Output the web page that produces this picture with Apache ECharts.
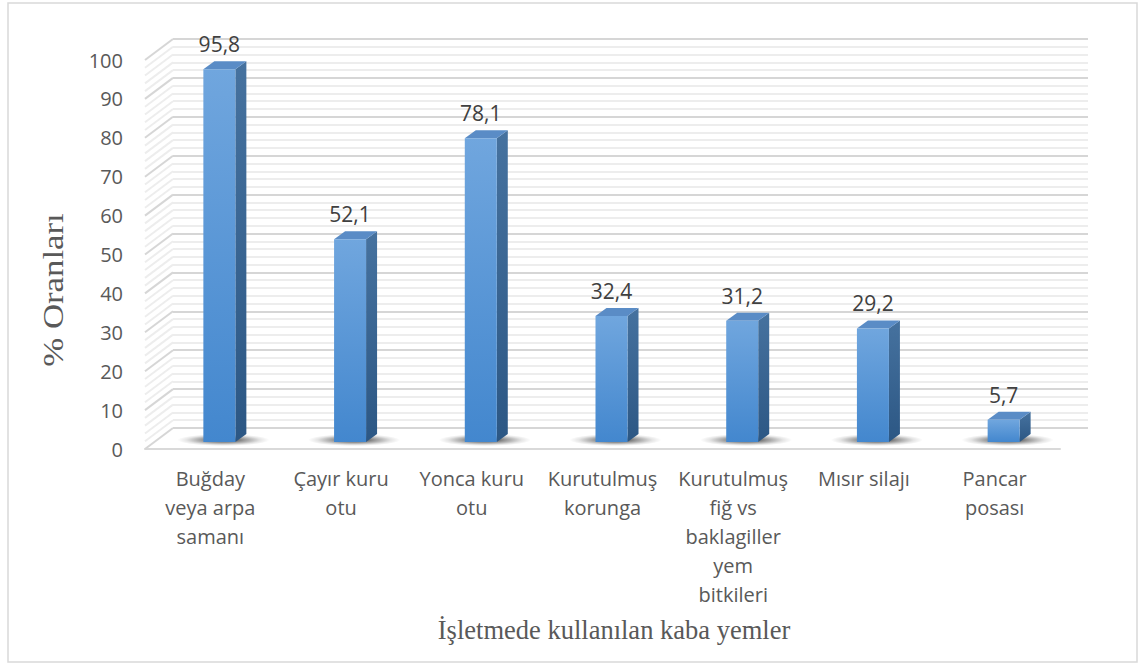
<!DOCTYPE html>
<html>
<head>
<meta charset="utf-8">
<title>Kaba yemler</title>
<script src="https://cdn.jsdelivr.net/npm/echarts@6/dist/echarts.min.js"></script>
<style>
html, body { margin: 0; padding: 0; background: #ffffff; }
#chart { width: 1141px; height: 664px; }
</style>
</head>
<body>
<div id="chart"></div>
<script>
// veriler
var categories = [
    'Buğday\nveya arpa\nsamanı',
    'Çayır kuru\notu',
    'Yonca kuru\notu',
    'Kurutulmuş\nkorunga',
    'Kurutulmuş\nfiğ vs\nbaklagiller\nyem\nbitkileri',
    'Mısır silajı',
    'Pancar\nposası'
];
var values = [95.8, 52.1, 78.1, 32.4, 31.2, 29.2, 5.7];
var yMin = 0, yMax = 100, yStep = 10;
var xTitle = 'İşletmede kullanılan kaba yemler';
var yTitle = '% Oranları';

// 3D görünüm için kaydırmalar
var wallDx = 28, wallDy = -21;
var barDx = 9, barDy = -7;
var barW = 32, barDepthX = 11, barDepthY = -8;

var chart = echarts.init(document.getElementById('chart'), null, { renderer: 'svg' });

function fmt(v) {
    return String(v).replace('.', ',');
}

// sol duvar çizgileri
function renderWall(params, api) {
    var cs = params.coordSys;
    var kids = [];
    for (var v = yMin; v <= yMax; v += 2) {
        var y = api.coord([0, v])[1];
        var major = (v % yStep === 0);
        kids.push({
            type: 'line',
            shape: { x1: cs.x, y1: y, x2: cs.x + wallDx, y2: y + wallDy },
            style: { stroke: major ? '#d6d6d6' : '#ededed', lineWidth: 2 }
        });
    }
    return { type: 'group', children: kids };
}

// sütunlar
function renderBar(params, api) {
    var i = api.value(0);
    var v = api.value(1);
    var base = api.coord([i, 0]);
    var top = api.coord([i, v]);
    var cx = base[0] + barDx;
    var x0 = cx - barW / 2;
    var x1 = x0 + barW;
    var yTop = top[1] + barDy;
    var yBot = base[1] + barDy;
    return {
        type: 'group',
        children: [
            {
                type: 'ellipse',
                shape: { cx: cx + 4, cy: yBot - 2, rx: 46, ry: 6 },
                style: {
                    fill: new echarts.graphic.RadialGradient(0.5, 0.5, 0.5, [
                        { offset: 0, color: 'rgba(0,0,0,0.85)' },
                        { offset: 0.45, color: 'rgba(0,0,0,0.4)' },
                        { offset: 0.8, color: 'rgba(0,0,0,0.1)' },
                        { offset: 1, color: 'rgba(0,0,0,0)' }
                    ])
                }
            },
            {
                type: 'polygon',
                shape: { points: [[x1, yTop], [x1 + barDepthX, yTop + barDepthY], [x1 + barDepthX, yBot + barDepthY], [x1, yBot]] },
                style: {
                    fill: new echarts.graphic.LinearGradient(0, 0, 0, 1, [
                        { offset: 0, color: '#46729f' },
                        { offset: 1, color: '#2c5784' }
                    ])
                }
            },
            {
                type: 'polygon',
                shape: { points: [[x0, yTop], [x0 + barDepthX, yTop + barDepthY], [x1 + barDepthX, yTop + barDepthY], [x1, yTop]] },
                style: { fill: '#5a8cc6' }
            },
            {
                type: 'rect',
                shape: { x: x0, y: yTop, width: barW, height: yBot - yTop },
                style: {
                    fill: new echarts.graphic.LinearGradient(0, 0, 0, 1, [
                        { offset: 0, color: '#70a6de' },
                        { offset: 1, color: '#4387ce' }
                    ])
                }
            },
            {
                type: 'text',
                x: cx,
                y: yTop - 25,
                style: {
                    text: fmt(v),
                    align: 'center',
                    verticalAlign: 'middle',
                    fill: '#404040',
                    fontSize: 21,
                    fontFamily: 'Open Sans'
                }
            }
        ]
    };
}

var option = {
    backgroundColor: '#ffffff',
    animation: false,
    grid: [
        { left: 145, top: 60, width: 915, height: 389 },
        { left: 145 + wallDx, top: 60 + wallDy, width: 915, height: 389 }
    ],
    xAxis: [
        {
            type: 'category',
            gridIndex: 0,
            data: categories,
            axisLine: { show: true, lineStyle: { color: '#d9d9d9', width: 2 } },
            axisTick: { show: false },
            axisLabel: {
                interval: 0,
                margin: 15,
                color: '#595959',
                fontSize: 20,
                lineHeight: 29,
                fontFamily: 'Open Sans'
            }
        },
        {
            type: 'category',
            gridIndex: 1,
            data: categories,
            show: false
        }
    ],
    yAxis: [
        {
            type: 'value',
            gridIndex: 0,
            min: yMin,
            max: yMax,
            interval: yStep,
            axisLine: { show: false },
            axisTick: { show: false },
            splitLine: { show: false },
            axisLabel: {
                margin: 22,
                color: '#595959',
                fontSize: 20,
                fontFamily: 'Open Sans'
            }
        },
        {
            type: 'value',
            gridIndex: 1,
            min: yMin,
            max: yMax,
            interval: yStep,
            axisLine: { show: false },
            axisTick: { show: false },
            axisLabel: { show: false },
            minorTick: { show: false, splitNumber: 5 },
            splitLine: { show: true, lineStyle: { color: '#d6d6d6', width: 2 } },
            minorSplitLine: { show: true, lineStyle: { color: '#ededed', width: 2 } }
        }
    ],
    graphic: [
        {
            type: 'rect',
            shape: { x: 8, y: 3, width: 1129, height: 659 },
            style: { fill: 'none', stroke: '#d9d9d9', lineWidth: 1.5 },
            silent: true
        },
        {
            type: 'text',
            x: 614,
            y: 630,
            style: {
                text: xTitle,
                align: 'center',
                verticalAlign: 'middle',
                fill: '#595959',
                fontSize: 26.5,
                fontFamily: 'Liberation Serif'
            }
        },
        {
            type: 'text',
            x: 53,
            y: 290,
            rotation: Math.PI / 2,
            scaleX: 1.2,
            style: {
                text: yTitle,
                align: 'center',
                verticalAlign: 'middle',
                fill: '#595959',
                fontSize: 29,
                fontFamily: 'Liberation Serif'
            }
        }
    ],
    series: [
        {
            type: 'custom',
            xAxisIndex: 0,
            yAxisIndex: 0,
            renderItem: renderWall,
            data: [[0, 0]],
            z: 1,
            silent: true
        },
        {
            type: 'custom',
            xAxisIndex: 0,
            yAxisIndex: 0,
            renderItem: renderBar,
            data: values.map(function (v, i) { return [i, v]; }),
            z: 5
        }
    ]
};

chart.setOption(option);
</script>
</body>
</html>
